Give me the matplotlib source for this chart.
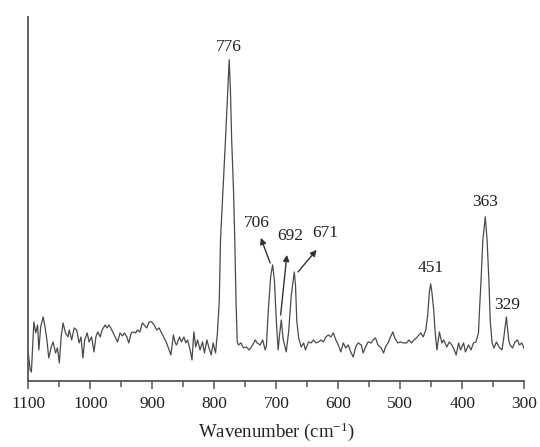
import matplotlib
matplotlib.use("Agg")
import matplotlib.pyplot as plt
from matplotlib.ticker import MultipleLocator

plt.rcParams['font.family'] = ['Liberation Serif', 'DejaVu Serif']
plt.rcParams['mathtext.fontset'] = 'custom'
plt.rcParams['mathtext.rm'] = 'Liberation Serif'
plt.rcParams['mathtext.it'] = 'Liberation Serif:italic'

# Raman spectrum (wavenumber in cm-1, intensity in arbitrary units)
wavenumber = [
    1100, 1097, 1095, 1091, 1088, 1085, 1083, 1080, 1076, 1073, 1070, 1067, 1063, 1060,
    1056, 1053, 1050, 1047, 1044, 1040, 1036, 1034, 1030, 1026, 1022, 1018, 1015, 1012,
    1009, 1005, 1002, 998, 994, 991, 988, 984, 981, 976, 973, 970, 967, 963, 959, 956,
    952, 948, 945, 941, 938, 934, 931, 927, 924, 920, 916, 913, 909, 905, 901, 897, 893,
    889, 885, 881, 877, 873, 870, 866, 863, 861, 856, 853, 849, 846, 843, 839, 836, 833,
    830, 827, 823, 819, 816, 812, 809, 805, 802, 798, 795, 792, 790, 786, 782, 776, 774,
    772, 769, 767, 765, 763, 761, 757, 753, 748, 744, 740, 734, 731, 726, 722, 718, 716,
    713, 709, 706, 703, 700, 697, 695, 692, 689, 684, 680, 676, 671, 669, 667, 664, 660,
    656, 653, 648, 644, 640, 636, 632, 628, 624, 620, 616, 612, 608, 604, 600, 596, 592,
    588, 584, 580, 576, 572, 568, 563, 560, 556, 552, 547, 544, 540, 536, 531, 527, 524,
    519, 516, 512, 509, 504, 500, 495, 490, 486, 482, 478, 474, 470, 467, 463, 459, 456,
    453, 451, 449, 446, 444, 441, 437, 433, 430, 425, 421, 417, 413, 410, 406, 403, 398,
    395, 390, 386, 382, 378, 374, 372, 370, 367, 363, 360, 357, 355, 352, 349, 345, 341,
    336, 333, 329, 325, 323, 319, 315, 311, 308, 304, 300,
]
intensity = [
    28, 11, 9, 59, 48, 56, 31, 54, 64, 54, 41, 23, 34, 39,
    28, 33, 18, 44, 58, 48, 44, 51, 41, 53, 51, 38, 44, 23,
    41, 48, 39, 44, 29, 44, 49, 44, 51, 56, 53, 56, 53, 48, 43, 39,
    48, 45, 48, 44, 38, 48, 49, 48, 51, 49, 58, 56, 53, 59, 59, 56, 51,
    53, 48, 43, 38, 31, 26, 46, 38, 36, 44, 39, 44, 38, 41, 31, 21, 49,
    34, 41, 31, 39, 28, 41, 34, 26, 38, 28, 48, 80, 141, 190, 241, 321, 290,
    241, 190, 141, 80, 39, 36, 38, 33, 34, 31, 34, 41, 38, 36, 41, 31, 35,
    70, 105, 116, 100, 60, 31, 45, 61, 42, 29, 50, 85, 109, 95, 60, 43, 34,
    38, 31, 39, 38, 41, 38, 39, 41, 39, 44, 46, 44, 48, 41, 36, 29, 38,
    33, 36, 29, 24, 34, 38, 36, 28, 34, 39, 38, 41, 43, 36, 33, 28, 34,
    39, 44, 49, 43, 38, 39, 38, 38, 41, 38, 41, 43, 46, 48, 44, 51, 65,
    90, 97, 88, 70, 50, 31, 49, 38, 41, 34, 39, 36, 31, 26, 38, 31, 38,
    29, 36, 31, 38, 39, 48, 75, 98, 140, 164, 140, 98, 60, 38, 33, 39, 34,
    31, 44, 64, 40, 36, 33, 39, 41, 36, 38, 32,
]

# peak labels: text, x, y
peak_labels = ['776', '451', '363', '329', '706', '692', '671']
label_x = [776, 451, 363, 327, 731, 678, 621]
label_y = [334, 113, 179, 76, 158, 145, 148]

# arrows for the crowded peaks: (start x, start y) -> (tip x, tip y)
arrow_start = [(710, 118), (693, 66), (665, 109)]
arrow_tip = [(725, 143), (683, 126), (635, 131)]

fig = plt.figure(figsize=(5.4, 4.47), dpi=100)
ax = fig.add_axes([0.0524, 0.1477, 0.9186, 0.8149])

ax.plot(wavenumber, intensity, color='#4a4a4a', lw=0.9)

for txt, tx, ty in zip(peak_labels, label_x, label_y):
    ax.text(tx, ty, txt, ha='center', va='center', fontsize=12.5, color='#222222')

for s, t in zip(arrow_start, arrow_tip):
    ax.annotate('', xy=t, xytext=s,
                arrowprops=dict(arrowstyle='-|>', color='#333333', lw=1.0,
                                mutation_scale=9, shrinkA=0, shrinkB=0))

ax.set_xlim(1100, 300)
ax.set_ylim(0, 364)
ax.xaxis.set_major_locator(MultipleLocator(100))
ax.xaxis.set_minor_locator(MultipleLocator(50))
ax.set_yticks([])
ax.spines['top'].set_visible(False)
ax.spines['right'].set_visible(False)
for sp in ['left', 'bottom']:
    ax.spines[sp].set_color('#555555')
    ax.spines[sp].set_linewidth(1.3)
ax.tick_params(axis='x', which='major', direction='out', length=6, width=1.1,
               color='#555555', labelsize=12.5, pad=5, labelcolor='#222222')
ax.tick_params(axis='x', which='minor', direction='out', length=4, width=1.1,
               color='#555555')
ax.set_xlabel('Wavenumber (cm$^{-1}$)', fontsize=13.5, labelpad=6, color='#222222')

fig.savefig('out.png', dpi=100, facecolor='white')
